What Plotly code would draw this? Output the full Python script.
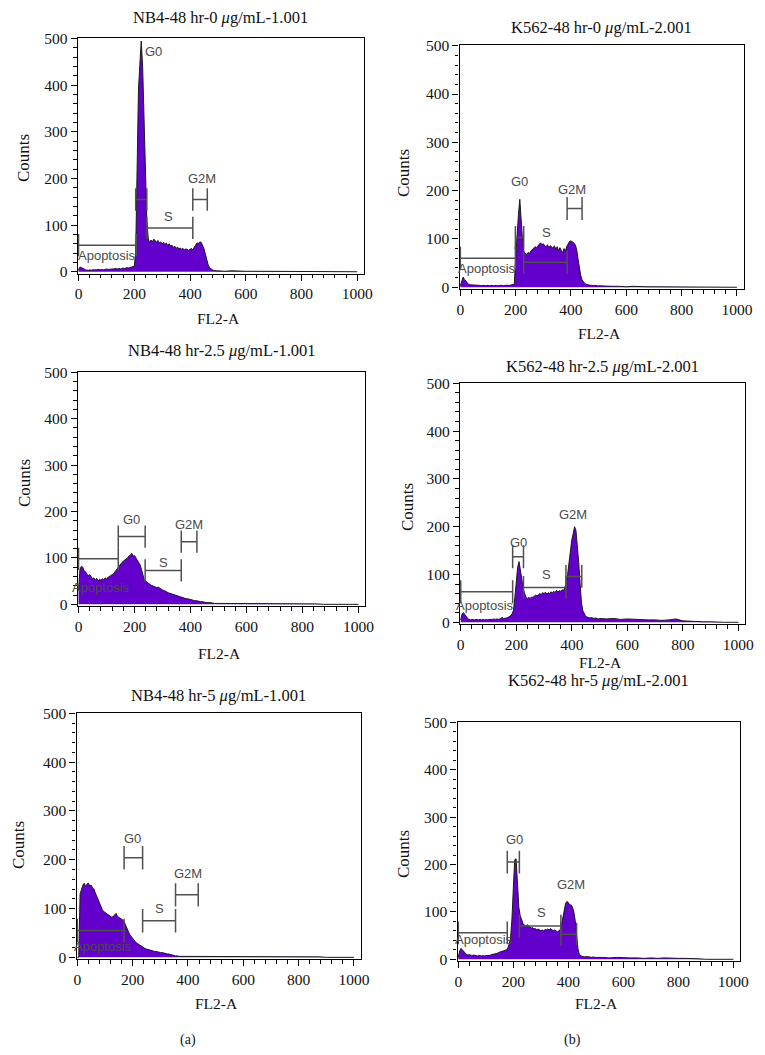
import plotly.graph_objects as go

W, H = 765, 1055

# FL2-A channel positions (bin centres): fine bins up to 500, coarse tail afterwards
channels = list(range(0, 500, 5)) + list(range(500, 1001, 25))

# ---------------- histogram counts ----------------
nb4_0 = [
    4, 10, 9, 8, 6, 4, 3, 3, 4, 3,
    4, 4, 3, 4, 5, 4, 4, 5, 4, 5,
    6, 5, 5, 6, 5, 6, 7, 6, 6, 7,
    6, 7, 8, 7, 8, 9, 8, 9, 10, 10,
    12, 40, 230, 390, 445, 495, 440, 320, 200, 110,
    72, 62, 68, 64, 70, 66, 63, 67, 62, 64,
    60, 63, 58, 62, 56, 60, 55, 57, 52, 55,
    50, 53, 49, 51, 48, 50, 47, 49, 48, 46,
    48, 50, 47, 52, 58, 62, 60, 64, 63, 58,
    50, 38, 25, 15, 9, 6, 4, 3, 2, 2,
    2, 1, 2, 1, 1, 1, 1, 0, 1, 1, 0, 1, 0, 1, 0, 0, 0, 0, 0, 0, 0,
]

k562_0 = [
    3, 15, 21, 16, 12, 8, 6, 5, 5, 4,
    4, 4, 5, 4, 4, 3, 4, 4, 3, 4,
    4, 3, 4, 4, 3, 4, 4, 3, 4, 4,
    4, 3, 4, 4, 4, 3, 4, 5, 5, 6,
    60, 120, 150, 182, 130, 95, 72, 70, 68, 72,
    70, 75, 78, 80, 84, 82, 86, 88, 92, 88,
    90, 86, 84, 88, 82, 86, 84, 80, 86, 78,
    84, 76, 82, 76, 72, 80, 75, 85, 92, 95,
    96, 94, 92, 88, 80, 60, 40, 25, 15, 10,
    8, 6, 5, 4, 4, 4, 3, 4, 3, 3,
    3, 2, 2, 2, 1, 2, 1, 1, 1, 1, 1, 1, 1, 1, 1, 1, 0, 0, 0, 0, 0,
]

nb4_25 = [
    30, 75, 82, 80, 72, 70, 65, 62, 64, 58,
    55, 57, 52, 56, 50, 54, 52, 55, 53, 57,
    55, 58, 60, 62, 64, 66, 70, 74, 80, 84,
    88, 90, 93, 95, 98, 100, 104, 106, 110, 104,
    105, 100, 97, 92, 85, 75, 62, 52, 50, 47,
    45, 43, 41, 40, 38, 37, 36, 37, 34, 33,
    31, 30, 28, 27, 25, 24, 22, 21, 20, 19,
    18, 17, 16, 15, 15, 14, 13, 12, 12, 11,
    10, 10, 9, 8, 8, 7, 7, 6, 6, 5,
    5, 4, 4, 4, 3, 3, 3, 2, 2, 2,
    2, 1, 1, 1, 1, 1, 1, 1, 1, 1, 1, 1, 1, 1, 1, 0, 0, 0, 0, 0, 0,
]

k562_25 = [
    5, 18, 20, 15, 10, 8, 6, 5, 6, 5,
    5, 6, 5, 5, 6, 5, 6, 5, 6, 5,
    6, 6, 5, 6, 7, 6, 7, 6, 7, 8,
    10, 8, 8, 9, 10, 12, 14, 18, 25, 52,
    88, 115, 127, 112, 90, 70, 58, 52, 50, 52,
    50, 53, 52, 55, 57, 55, 58, 60, 58, 62,
    60, 63, 59, 62, 60, 64, 61, 65, 62, 67,
    63, 66, 65, 68, 66, 72, 80, 100, 125, 150,
    172, 185, 200, 192, 165, 125, 80, 40, 24, 16,
    12, 11, 10, 9, 10, 9, 8, 9, 8, 7,
    8, 7, 8, 6, 7, 6, 5, 5, 5, 4, 5, 7, 3, 2, 2, 1, 1, 0, 0, 0, 0,
]

nb4_5 = [
    0, 0, 130, 142, 148, 152, 145, 150, 152, 146,
    148, 142, 140, 132, 125, 118, 110, 104, 98, 94,
    92, 90, 88, 86, 84, 82, 84, 88, 90, 84,
    82, 80, 78, 76, 72, 64, 57, 52, 46, 42,
    38, 35, 32, 29, 27, 25, 23, 21, 20, 18,
    17, 16, 15, 14, 14, 13, 12, 12, 11, 11,
    10, 10, 9, 8, 8, 7, 7, 6, 5, 5,
    4, 3, 3, 2, 2, 2, 2, 2, 2, 1,
    2, 1, 1, 1, 1, 1, 1, 1, 1, 1,
    1, 1, 1, 1, 1, 1, 1, 1, 1, 1,
    1, 1, 1, 1, 1, 1, 1, 1, 1, 1, 1, 1, 1, 1, 1, 1, 0, 0, 0, 0, 0,
]

k562_5 = [
    5, 18, 23, 20, 15, 12, 10, 9, 10, 9,
    8, 9, 8, 8, 7, 8, 7, 7, 8, 7,
    8, 8, 9, 8, 10, 10, 11, 12, 12, 14,
    15, 16, 16, 18, 19, 20, 24, 32, 45, 85,
    150, 210, 212, 165, 110, 92, 82, 76, 72, 70,
    73, 70, 68, 66, 67, 64, 65, 62, 64, 62,
    60, 62, 60, 63, 62, 64, 62, 65, 63, 60,
    62, 60, 58, 60, 62, 72, 90, 105, 118, 122,
    120, 114, 115, 110, 100, 82, 50, 22, 10, 7,
    6, 6, 5, 6, 5, 5, 5, 4, 5, 4,
    4, 4, 3, 4, 3, 3, 3, 2, 3, 2, 3, 2, 2, 2, 2, 1, 0, 0, 0, 0, 0,
]

# ---------------- marker gates: (label, start, end, level, label_x, label_y) ----------------
nb4_0_gates = [("Apoptosis", 0, 207, 57, 101, 34), ("G0", 205, 245, 155, 268, 472),
               ("S", 245, 410, 94, 323, 118), ("G2M", 410, 462, 155, 443, 200)]
k562_0_gates = [("Apoptosis", 0, 199, 60, 96, 39), ("G0", 199, 229, 103, 214, 219),
                ("S", 229, 386, 52, 311, 113), ("G2M", 386, 440, 163, 404, 203)]
nb4_25_gates = [("Apoptosis", 0, 142, 98, 80, 37), ("G0", 142, 238, 146, 190, 183),
                ("S", 238, 367, 73, 303, 91), ("G2M", 367, 423, 135, 393, 172)]
k562_25_gates = [("Apoptosis", 0, 187, 64, 88, 35), ("G0", 187, 226, 137, 208, 167),
                 ("S", 226, 379, 73, 310, 99), ("G2M", 379, 436, 96, 406, 225)]
nb4_5_gates = [("Apoptosis", 0, 169, 55, 94, 23), ("G0", 169, 236, 204, 200, 244),
               ("S", 236, 355, 75, 296, 100), ("G2M", 355, 437, 128, 401, 172)]
k562_5_gates = [("Apoptosis", 0, 178, 56, 95, 41), ("G0", 178, 222, 205, 206, 253),
                ("S", 222, 373, 70, 301, 99), ("G2M", 373, 430, 53, 408, 157)]

titles = [
    "NB4-48 hr-0 <i>μ</i>g/mL-1.001",
    "K562-48 hr-0 <i>μ</i>g/mL-2.001",
    "NB4-48 hr-2.5 <i>μ</i>g/mL-1.001",
    "K562-48 hr-2.5 <i>μ</i>g/mL-2.001",
    "NB4-48 hr-5 <i>μ</i>g/mL-1.001",
    "K562-48 hr-5 <i>μ</i>g/mL-2.001",
]
x_ticks = [0, 200, 400, 600, 800, 1000]
y_ticks = [0, 100, 200, 300, 400, 500]

# ---------------- layout (pixel geometry) ----------------
panel_counts = [nb4_0, k562_0, nb4_25, k562_25, nb4_5, k562_5]
panel_gates = [nb4_0_gates, k562_0_gates, nb4_25_gates, k562_25_gates, nb4_5_gates, k562_5_gates]
# plot boxes in pixels: left, right, top, bottom
boxes = [(77.7, 364.2, 38.2, 273.6), (459.5, 743.9, 45.2, 289.2),
         (77.7, 365.4, 371.8, 606.2), (459.9, 745.3, 382.8, 624.2),
         (76.5, 360.9, 712.8, 959.3), (457.5, 740.2, 721.8, 961.2)]
title_y = [17, 27, 350, 367, 695, 680]
counts_lab = [(23, 158), (403, 173), (25, 483), (408, 507), (18, 845), (403, 854)]
fl2_y = [318, 333, 653, 662, 1003, 1003]

XR = [-3, 1025]
YR = [-4, 501]
FILL = "#6300CC"
GATE_COLOR = "#505050"
TICK_HALF = 24
SERIF = "Liberation Serif"
SANS = "Liberation Sans"


def pxx(p):
    return p / W


def pxy(p):
    return 1 - p / H


def text_ann(x, y, text, size, family=SERIF, **kw):
    d = dict(x=pxx(x), y=pxy(y), xref="paper", yref="paper", text=text, showarrow=False,
             xanchor="center", yanchor="middle",
             font=dict(family=family, size=size, color="#111"))
    d.update(kw)
    return d


fig = go.Figure()
annotations = []
layout_axes = {}

for i in range(6):
    n = i + 1
    xs = "" if n == 1 else str(n)
    xref, yref = "x" + xs, "y" + xs
    l, r, t, b = boxes[i]

    fig.add_trace(go.Scatter(
        x=channels, y=panel_counts[i], mode="lines", fill="tozeroy",
        fillcolor=FILL, line=dict(color="#1a1a1a", width=1),
        xaxis=xref, yaxis=yref, showlegend=False, hoverinfo="skip"))

    gx, gy = [], []
    for (lab, s, e, lvl, lx, ly) in panel_gates[i]:
        gx += [s, e, None, s, s, None, e, e, None]
        gy += [lvl, lvl, None, lvl - TICK_HALF, lvl + TICK_HALF, None,
               lvl - TICK_HALF, lvl + TICK_HALF, None]
        annotations.append(dict(x=lx, y=ly, xref=xref, yref=yref, text=lab,
                                xanchor="center", yanchor="middle", showarrow=False,
                                font=dict(family=SANS, size=13, color="#4a4a4a")))
    fig.add_trace(go.Scatter(x=gx, y=gy, mode="lines", line=dict(color=GATE_COLOR, width=1.5),
                             xaxis=xref, yaxis=yref, showlegend=False, hoverinfo="skip"))

    common = dict(showline=True, mirror=True, linecolor="black", linewidth=1.3,
                  ticks="outside", ticklen=6, tickwidth=1.2, tickcolor="black",
                  showgrid=False, zeroline=False, fixedrange=True, automargin=False,
                  tickfont=dict(family=SERIF, size=15.5, color="#111"))
    layout_axes["xaxis" + xs] = dict(common, range=XR, domain=[pxx(l), pxx(r)], anchor=yref,
                                     tickvals=x_ticks,
                                     minor=dict(dtick=40, tick0=0, ticks="outside", ticklen=3.5,
                                                tickwidth=1, tickcolor="black"))
    layout_axes["yaxis" + xs] = dict(common, range=YR, domain=[pxy(b), pxy(t)], anchor=xref,
                                     tickvals=y_ticks,
                                     minor=dict(dtick=20, tick0=0, ticks="outside", ticklen=3.5,
                                                tickwidth=1, tickcolor="black"))

    cx = (l + r) / 2
    annotations.append(text_ann(cx, title_y[i], titles[i], 16.5))
    annotations.append(text_ann(counts_lab[i][0], counts_lab[i][1], "Counts", 17, textangle=-90))
    annotations.append(text_ann(cx - 2, fl2_y[i], "FL2-A", 15.5))

annotations.append(text_ann(188, 1040, "(a)", 14))
annotations.append(text_ann(572, 1040, "(b)", 14))

fig.update_layout(width=W, height=H, autosize=False, margin=dict(l=0, r=0, t=0, b=0, pad=0),
                  paper_bgcolor="white", plot_bgcolor="white",
                  annotations=annotations, **layout_axes)

fig.write_html(
    "out.html",
    config={"displayModeBar": False, "responsive": False},
    post_script=("document.documentElement.style.margin='0px';"
                 "document.documentElement.style.overflow='hidden';"
                 "document.body.style.margin='0px';document.body.style.overflow='hidden';"))
